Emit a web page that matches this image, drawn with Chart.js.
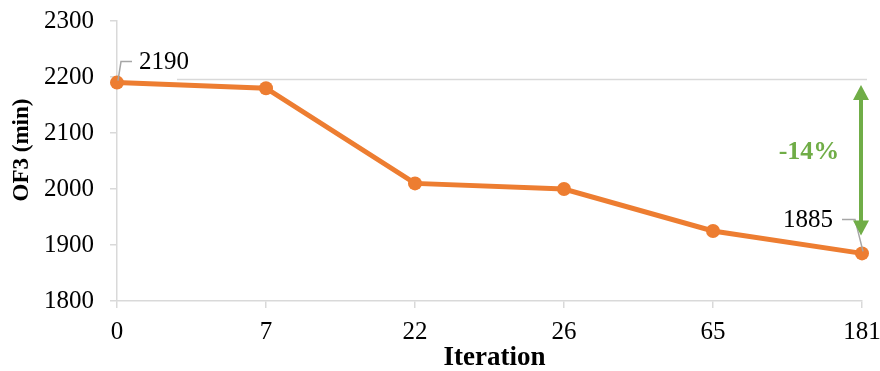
<!DOCTYPE html>
<html>
<head>
<meta charset="utf-8">
<script src="https://cdn.jsdelivr.net/npm/chart.js@4.4.1/dist/chart.umd.min.js"></script>
<style>
  html, body { margin: 0; padding: 0; background: #ffffff; }
  #wrap { width: 880px; height: 371px; position: relative; }
</style>
</head>
<body>
<div id="wrap"><canvas id="chart" width="880" height="371"></canvas></div>
<script>
// Iterations of the optimisation run and the OF3 objective (minutes)
const iterations = ['0', '7', '22', '26', '65', '181'];
const of3Minutes = [2190, 2180, 2010, 2000, 1925, 1885];
const yTicks = [1800, 1900, 2000, 2100, 2200, 2300];
const xTitle = 'Iteration';
const yTitle = 'OF3 (min)';

const ORANGE = '#ed7d31';
const GREEN = '#70ad47';
const AXIS_GREY = '#d9d9d9';
const LEADER_GREY = '#a6a6a6';
const SERIF = '"Liberation Serif", "Times New Roman", serif';

const firstIdx = 0;
const lastIdx = of3Minutes.length - 1;
const changePct = Math.round((of3Minutes[lastIdx] - of3Minutes[firstIdx]) / of3Minutes[firstIdx] * 100);

// Axis titles, callouts, the start-level reference line and the change arrow
const annotations = {
  id: 'annotations',
  afterDatasetsDraw(chart) {
    const ctx = chart.ctx;
    const area = chart.chartArea;
    const x = chart.scales.x, y = chart.scales.y;
    const x0 = x.getPixelForValue(firstIdx), y0 = y.getPixelForValue(of3Minutes[firstIdx]);
    const x1 = x.getPixelForValue(lastIdx), y1 = y.getPixelForValue(of3Minutes[lastIdx]);
    ctx.save();

    // axis titles
    ctx.fillStyle = '#000000';
    ctx.textAlign = 'center';
    ctx.textBaseline = 'middle';
    ctx.font = 'bold 27px ' + SERIF;
    ctx.fillText(xTitle, (area.left + area.right) / 2 + 5, area.bottom + 57);
    ctx.save();
    ctx.translate(22, (area.top + area.bottom) / 2 - 11);
    ctx.rotate(-Math.PI / 2);
    ctx.font = 'bold 23px ' + SERIF;
    ctx.fillText(yTitle, 0, 0);
    ctx.restore();

    // light reference line at the starting level
    ctx.strokeStyle = AXIS_GREY;
    ctx.lineWidth = 1.5;
    ctx.beginPath();
    ctx.moveTo(x0 + 60, y0 - 3);
    ctx.lineTo(x1 + 5, y0 - 3);
    ctx.stroke();

    // leader lines for the two labelled points
    ctx.strokeStyle = LEADER_GREY;
    ctx.lineWidth = 1.5;
    ctx.beginPath();
    ctx.moveTo(x0 + 1, y0 - 2);
    ctx.lineTo(x0 + 4, y0 - 21);
    ctx.lineTo(x0 + 15, y0 - 21);
    ctx.stroke();
    ctx.beginPath();
    ctx.moveTo(x1 + 1, y1 - 2);
    ctx.lineTo(x1 - 7, y1 - 34);
    ctx.lineTo(x1 - 20, y1 - 34);
    ctx.stroke();

    ctx.fillStyle = '#000000';
    ctx.font = '25px ' + SERIF;
    ctx.textAlign = 'left';
    ctx.fillText(String(of3Minutes[firstIdx]), x0 + 22, y0 - 20);
    ctx.textAlign = 'right';
    ctx.fillText(String(of3Minutes[lastIdx]), x1 - 29, y1 - 33);

    // double-headed change arrow
    const ax = x1 - 1;
    const top = y0 + 2.5, bot = y1 - 18;
    const head = 15, half = 8;
    ctx.strokeStyle = GREEN;
    ctx.fillStyle = GREEN;
    ctx.lineWidth = 4;
    ctx.beginPath();
    ctx.moveTo(ax, top + head - 2);
    ctx.lineTo(ax, bot - head + 2);
    ctx.stroke();
    ctx.beginPath();
    ctx.moveTo(ax, top);
    ctx.lineTo(ax - half, top + head);
    ctx.lineTo(ax + half, top + head);
    ctx.closePath();
    ctx.fill();
    ctx.beginPath();
    ctx.moveTo(ax, bot);
    ctx.lineTo(ax - half, bot - head);
    ctx.lineTo(ax + half, bot - head);
    ctx.closePath();
    ctx.fill();

    ctx.font = 'bold 26px ' + SERIF;
    ctx.textAlign = 'center';
    ctx.fillText(changePct + '%', ax - 52, (top + bot) / 2 - 8);
    ctx.restore();
  }
};

new Chart(document.getElementById('chart'), {
  type: 'line',
  data: {
    labels: iterations,
    datasets: [{
      data: of3Minutes,
      borderColor: ORANGE,
      backgroundColor: ORANGE,
      borderWidth: 5,
      pointRadius: 7,
      pointHoverRadius: 7,
      pointBackgroundColor: ORANGE,
      pointBorderWidth: 0,
      tension: 0,
      clip: false
    }]
  },
  options: {
    responsive: false,
    animation: false,
    events: [],
    layout: { autoPadding: false, padding: { top: 21, right: 18, left: 0, bottom: 0 } },
    plugins: { legend: { display: false }, tooltip: { enabled: false } },
    scales: {
      x: {
        type: 'category',
        offset: false,
        grid: { display: true, drawOnChartArea: false, drawTicks: true, tickLength: 7, color: AXIS_GREY, lineWidth: 1.5 },
        border: { display: true, color: AXIS_GREY, width: 1.5 },
        ticks: { color: '#000000', font: { family: SERIF, size: 25 }, padding: 9, maxRotation: 0, autoSkip: false },
        title: { display: false },
        afterFit(scale) { scale.height = 70; scale.paddingLeft = 0; scale.paddingRight = 0; }
      },
      y: {
        min: 1800,
        max: 2300,
        afterBuildTicks(scale) { scale.ticks = yTicks.map(v => ({ value: v })); },
        grid: { display: true, drawOnChartArea: false, drawTicks: true, tickLength: 7, color: AXIS_GREY, lineWidth: 1.5 },
        border: { display: true, color: AXIS_GREY, width: 1.5 },
        ticks: { color: '#000000', font: { family: SERIF, size: 25 }, padding: 16, callback: v => String(v) },
        title: { display: false },
        afterFit(scale) { scale.width = 117; scale.paddingTop = 0; scale.paddingBottom = 0; }
      }
    }
  },
  plugins: [annotations]
});
</script>
</body>
</html>
